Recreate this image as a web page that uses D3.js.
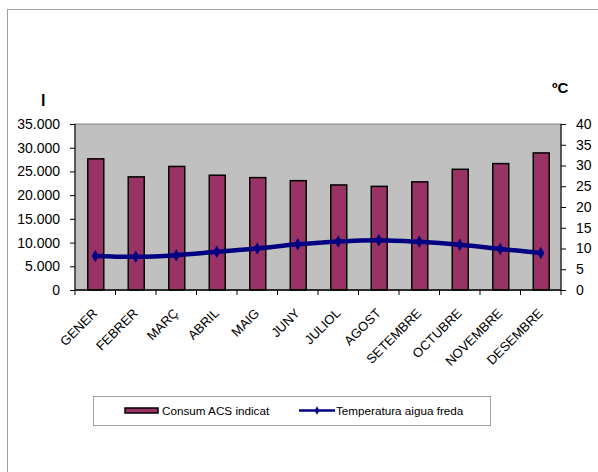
<!DOCTYPE html>
<html>
<head>
<meta charset="utf-8">
<script src="https://cdn.jsdelivr.net/npm/d3@7"></script>
<style>
  html, body { margin: 0; padding: 0; background: #fff; }
  svg { display: block; font-family: Arial, "Liberation Sans", sans-serif; }
</style>
</head>
<body>
<svg id="chart" width="598" height="472"></svg>
<script>
// Monthly hot water consumption (litres) and cold water temperature (ºC)
const months = ["GENER", "FEBRER", "MARÇ", "ABRIL", "MAIG", "JUNY", "JULIOL", "AGOST", "SETEMBRE", "OCTUBRE", "NOVEMBRE", "DESEMBRE"];
const consum = [27650, 23850, 26050, 24200, 23700, 23050, 22150, 21850, 22800, 25450, 26650, 28900];
const temperatura = [8.2, 8.0, 8.4, 9.2, 10.0, 11.0, 11.7, 12.0, 11.6, 10.9, 9.9, 8.9];
const leftTicks = [0, 5000, 10000, 15000, 20000, 25000, 30000, 35000];
const rightTicks = [0, 5, 10, 15, 20, 25, 30, 35, 40];
const seriesNames = ["Consum ACS indicat", "Temperatura aigua freda"];

const svg = d3.select("#chart");
const plot = { left: 75, right: 561, top: 124, bottom: 290 };

// chart area frame
svg.append("rect")
  .attr("x", 7.5).attr("y", 9.5)
  .attr("width", 640).attr("height", 500)
  .attr("fill", "#fff").attr("stroke", "#a0a0a0").attr("stroke-width", 1);

const x = d3.scaleBand().domain(months).range([plot.left, plot.right]).padding(0);
const yL = d3.scaleLinear().domain([0, 35000]).range([plot.bottom, plot.top]);
const yR = d3.scaleLinear().domain([0, 40]).range([plot.bottom, plot.top]);

// plot background
svg.append("rect")
  .attr("x", plot.left).attr("y", plot.top)
  .attr("width", plot.right - plot.left).attr("height", plot.bottom - plot.top)
  .attr("fill", "#c0c0c0").attr("stroke", "#808080").attr("stroke-width", 1);

const fmt = d => d3.format(",")(d).replace(/,/g, ".");

// left axis
const gL = svg.append("g").attr("transform", `translate(${plot.left},0)`)
  .call(d3.axisLeft(yL).tickValues(leftTicks).tickFormat(fmt).tickSize(5).tickPadding(10));
// right axis
const gR = svg.append("g").attr("transform", `translate(${plot.right},0)`)
  .call(d3.axisRight(yR).tickValues(rightTicks).tickSize(5).tickPadding(10));
[gL, gR].forEach(g => {
  g.select(".domain").remove();
  g.selectAll(".tick line").attr("stroke", "#000");
  g.selectAll(".tick text").attr("font-size", 14).attr("fill", "#000")
    .attr("font-family", "Arial, 'Liberation Sans', sans-serif");
});

// bars
const barW = 16;
svg.append("g").selectAll("rect").data(months).join("rect")
  .attr("x", (d) => x(d) + x.bandwidth() / 2 - barW / 2 + 0.5)
  .attr("y", (d, i) => yL(consum[i]))
  .attr("width", barW)
  .attr("height", (d, i) => plot.bottom - yL(consum[i]))
  .attr("fill", "#993366").attr("stroke", "#000").attr("stroke-width", 1.5);

// vertical axes lines
svg.append("line").attr("x1", plot.left).attr("x2", plot.left)
  .attr("y1", plot.top).attr("y2", plot.bottom).attr("stroke", "#000");
svg.append("line").attr("x1", plot.right).attr("x2", plot.right)
  .attr("y1", plot.top).attr("y2", plot.bottom).attr("stroke", "#000");

// bottom axis with ticks between categories
const gX = svg.append("g").attr("transform", `translate(0,${plot.bottom})`);
gX.append("line").attr("x1", plot.left).attr("x2", plot.right)
  .attr("stroke", "#000").attr("stroke-width", 1.5);
const edges = months.map(m => x(m)).concat([plot.right]);
gX.selectAll("line.tk").data(edges).join("line").attr("class", "tk")
  .attr("x1", d => d).attr("x2", d => d).attr("y1", 0).attr("y2", 5)
  .attr("stroke", "#000");
gX.selectAll("text").data(months).join("text")
  .attr("transform", d => `translate(${x(d) + x.bandwidth() / 2 + 3},${24}) rotate(-45)`)
  .attr("text-anchor", "end")
  .attr("font-size", 13).attr("fill", "#000")
  .text(d => d);

// temperature line
const line = d3.line()
  .x((d, i) => x(months[i]) + x.bandwidth() / 2)
  .y(d => yR(d))
  .curve(d3.curveCatmullRom.alpha(0.5));
svg.append("path").datum(temperatura)
  .attr("d", line).attr("fill", "none")
  .attr("stroke", "#000080").attr("stroke-width", 4.5)
  .attr("stroke-linecap", "round");
svg.append("g").selectAll("path").data(temperatura).join("path")
  .attr("transform", (d, i) => `translate(${x(months[i]) + x.bandwidth() / 2},${yR(d)})`)
  .attr("d", d3.symbol(d3.symbolDiamond, 45))
  .attr("fill", "#000080");

// axis unit titles
svg.append("text").attr("x", 41).attr("y", 106).attr("font-size", 16)
  .attr("font-weight", "bold").text("l");
svg.append("text").attr("x", 552).attr("y", 93).attr("font-size", 15)
  .attr("font-weight", "bold").text("ºC");

// legend
const lg = svg.append("g");
lg.append("rect").attr("x", 93.5).attr("y", 396.5).attr("width", 397).attr("height", 29)
  .attr("fill", "#fff").attr("stroke", "#a0a0a0");
lg.append("rect").attr("x", 125).attr("y", 408).attr("width", 33).attr("height", 5)
  .attr("fill", "#993366").attr("stroke", "#000").attr("stroke-width", 1.5);
lg.append("text").attr("x", 162).attr("y", 415).attr("font-size", 11.7).text(seriesNames[0]);
lg.append("line").attr("x1", 299).attr("x2", 335).attr("y1", 410.5).attr("y2", 410.5)
  .attr("stroke", "#000080").attr("stroke-width", 2.5);
lg.append("path").attr("transform", "translate(317,410.5)")
  .attr("d", d3.symbol(d3.symbolDiamond, 20)).attr("fill", "#000080");
lg.append("text").attr("x", 336).attr("y", 415).attr("font-size", 11.7).text(seriesNames[1]);
</script>
</body>
</html>
